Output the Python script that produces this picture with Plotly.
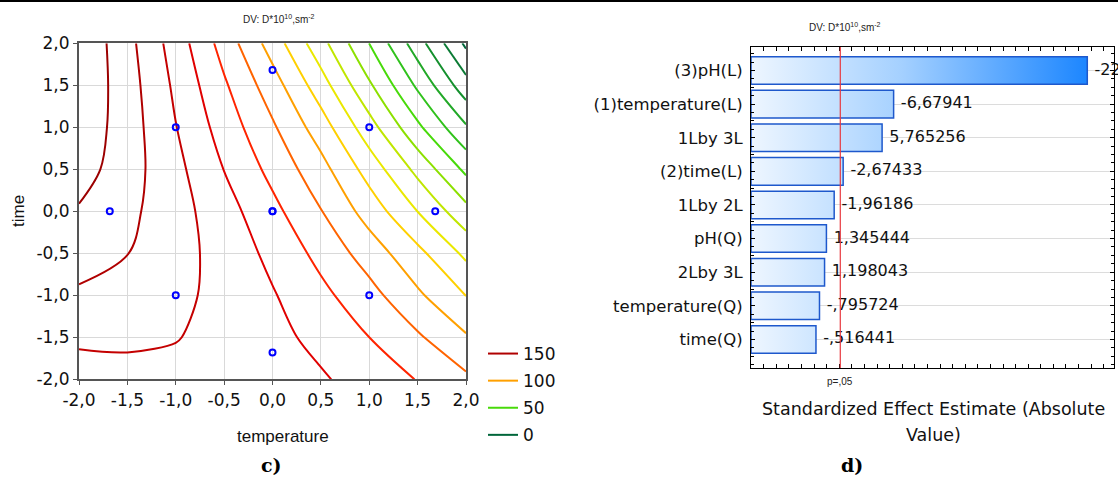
import plotly.graph_objects as go

# ---------------- data: panel c) contour of D*10^10 ----------------
temperature_grid = [-2.0, -1.5, -1.0, -0.5, 0.0, 0.5, 1.0, 1.5, 2.0]
time_grid = [-2.0, -1.5, -1.0, -0.5, 0.0, 0.5, 1.0, 1.5, 2.0]
# rows follow time_grid (bottom -> top), columns follow temperature_grid
D_row_m20 = [136.0, 137.5, 138.0, 137.6, 134.6, 131.2, 125.6, 119.6, 112.0]
D_row_m15 = [141.6, 141.4, 140.3, 137.9, 133.0, 127.1, 120.0, 111.4, 101.1]
D_row_m10 = [148.5, 145.5, 142.0, 137.6, 130.8, 122.6, 113.5, 101.7, 89.8]
D_row_m05 = [154.2, 150.2, 143.6, 136.4, 127.4, 117.1, 105.4, 92.7, 77.8]
D_row_p00 = [159.0, 152.4, 144.0, 134.1, 122.8, 110.4, 95.8, 79.9, 63.2]
D_row_p05 = [164.5, 154.3, 142.8, 129.8, 117.1, 103.6, 85.9, 67.2, 47.8]
D_row_p10 = [167.0, 154.9, 140.3, 125.7, 111.4, 94.9, 74.1, 52.1, 31.2]
D_row_p15 = [168.5, 154.4, 138.1, 121.4, 104.6, 84.5, 61.5, 38.2, 13.9]
D_row_p20 = [169.0, 153.2, 135.4, 116.0, 95.5, 73.5, 49.9, 24.4, -2.0]
D_surface = [D_row_m20, D_row_m15, D_row_m10, D_row_m05, D_row_p00,
             D_row_p05, D_row_p10, D_row_p15, D_row_p20]

level_start, level_end, level_step = 0, 160, 10
legend_levels = [150, 100, 50, 0]

design_temperature = [-1, -1, 1, 1, -1.682, 1.682, 0, 0, 0, 0]
design_time = [-1, 1, -1, 1, 0, 0, -1.682, 1.682, 0, 0]

axis_tick_values = [-2.0, -1.5, -1.0, -0.5, 0.0, 0.5, 1.0, 1.5, 2.0]

# ---------------- data: panel d) Pareto chart ----------------
effect_names = ["(3)pH(L)", "(1)temperature(L)", "1Lby 3L", "(2)time(L)", "1Lby 2L",
                "pH(Q)", "2Lby 3L", "temperature(Q)", "time(Q)"]
effect_values = [-22.05, -6.67941, 5.765256, -2.67433, -1.96186,
                 1.345444, 1.198043, -0.795724, -0.516441]
p05_threshold = 2.447
effect_axis_range = [-4.64, 24.17]

# ---------------- helpers ----------------
W, H = 1118, 479


def px(x):
    return x / W


def py(y):
    return 1 - y / H


def comma(v):
    return f"{v:.1f}".replace(".", ",")


def stat_fmt(v):
    sign = "-" if v < 0 else ""
    a = abs(v)
    ip = int(a)
    int_str = "" if ip == 0 else str(ip)
    dec = 8 - len(sign) - len(int_str) - 1
    frac = f"{a:.{dec}f}".split(".")[1]
    return f"{sign}{int_str},{frac}"


level_colors = ["#00663A", "#0B7A34", "#15902E", "#22A828", "#30C21C", "#48DA0A",
                "#8CE000", "#C0E600", "#EAE800", "#FFD000", "#FFA000", "#FF6400",
                "#FF2400", "#E00000", "#C40000", "#B00000", "#9C0000"]
n_lv = len(level_colors)
colorscale = [[i / (n_lv - 1), c] for i, c in enumerate(level_colors)]


def level_color(lv):
    return level_colors[int(round((lv - level_start) / level_step))]


SANS = "Liberation Sans, Arial, sans-serif"
WIDE = "DejaVu Sans, Verdana, sans-serif"

fig = go.Figure()

# contour lines
fig.add_trace(go.Contour(
    x=temperature_grid, y=time_grid, z=D_surface,
    autocontour=False,
    contours=dict(start=level_start, end=level_end, size=level_step, coloring="lines"),
    colorscale=colorscale, showscale=False,
    line=dict(width=2, smoothing=1.0),
    hoverinfo="skip", xaxis="x", yaxis="y",
))

# design points
fig.add_trace(go.Scatter(
    x=design_temperature, y=design_time, mode="markers",
    marker=dict(symbol="circle-open", size=6, color="#0000FF", line=dict(width=2)),
    showlegend=False, xaxis="x", yaxis="y", cliponaxis=False,
))

# legend entries
for k, lv in enumerate(legend_levels):
    fig.add_trace(go.Scatter(
        x=[None], y=[None], mode="lines", name=str(lv),
        line=dict(color=level_color(lv), width=2),
        legendgroup=f"g{k}", showlegend=True, xaxis="x", yaxis="y",
    ))

# Pareto bars with horizontal gradient
x_base = effect_axis_range[0]
bar_half = 0.41
grad_stop = max(abs(v) for v in effect_values)
for i, v in enumerate(effect_values):
    a = abs(v)
    fig.add_trace(go.Scatter(
        x=[x_base, a, a, x_base, x_base],
        y=[i - bar_half, i - bar_half, i + bar_half, i + bar_half, i - bar_half],
        mode="lines", fill="toself",
        fillgradient=dict(type="horizontal",
                          colorscale=[[0, "#EEF6FF"], [0.45, "#A4D0FF"], [1, "#1C86FF"]],
                          start=x_base, stop=grad_stop),
        line=dict(color="#1E58CC", width=1.5),
        showlegend=False, hoverinfo="skip", xaxis="x2", yaxis="y2",
    ))

# value labels
fig.add_trace(go.Scatter(
    x=[abs(v) for v in effect_values], y=list(range(len(effect_values))),
    mode="markers+text", text=[stat_fmt(v) for v in effect_values],
    marker=dict(size=10, opacity=0),
    textposition="middle right", textfont=dict(family=WIDE, size=16, color="#111"),
    showlegend=False, xaxis="x2", yaxis="y2", cliponaxis=False, hoverinfo="skip",
))

# p=.05 line
fig.add_shape(type="line", xref="x2", yref="y2 domain", x0=p05_threshold, x1=p05_threshold,
              y0=0, y1=1, line=dict(color="#E8383D", width=1.2))

common_tick = dict(tickvals=axis_tick_values, ticktext=[comma(v) for v in axis_tick_values],
                   range=[-2, 2], showgrid=True, gridcolor="#D9D9D9", gridwidth=1,
                   zeroline=False, showline=True, linecolor="#555", linewidth=2, mirror=True,
                   ticks="outside", ticklen=4, tickcolor="#555", automargin=False,
                   tickfont=dict(family=WIDE, size=17, color="#111"))

fig.update_layout(
    width=W, height=H, autosize=False,
    margin=dict(l=0, r=0, t=0, b=0, pad=0, autoexpand=False),
    paper_bgcolor="white", plot_bgcolor="white",
    xaxis=dict(domain=[px(79), px(466)], anchor="y", **common_tick),
    yaxis=dict(domain=[py(379.3), py(43.3)], anchor="x", **common_tick),
    xaxis2=dict(domain=[px(751), px(1114)], anchor="y2", range=effect_axis_range,
                showticklabels=False, ticks="inside", tick0=x_base, dtick=1, ticklen=4,
                tickcolor="#000", showgrid=False, zeroline=False, showline=True,
                linecolor="#000", linewidth=1, mirror="ticks", automargin=False),
    yaxis2=dict(domain=[py(368), py(47)], anchor="x2", range=[8.85, -0.7],
                tickvals=list(range(len(effect_names))), ticktext=effect_names,
                ticks="inside", ticklen=4, tickcolor="#000", automargin=False,
                ticklabelstandoff=4,
                minor=dict(dtick=0.25, tick0=0, ticks="inside", ticklen=3,
                           tickcolor="#000", showgrid=False),
                showgrid=True, gridcolor="#DCDCDC", zeroline=False,
                showline=True, linecolor="#000", linewidth=1, mirror="ticks",
                tickfont=dict(family=WIDE, size=16.5, color="#111")),
    legend=dict(x=px(483), y=py(336), xanchor="left", yanchor="top",
                bgcolor="rgba(0,0,0,0)", font=dict(family=WIDE, size=17, color="#111"),
                tracegroupgap=2, itemwidth=30, borderwidth=0),
    showlegend=True,
)

title_txt = "DV: D*10<sup>10</sup>,sm<sup>-2</sup>"
ann = [
    dict(x=px(279), y=py(19), text=title_txt, font=dict(family=SANS, size=10, color="#222")),
    dict(x=px(845), y=py(27), text=title_txt, font=dict(family=SANS, size=10, color="#222")),
    dict(x=px(283), y=py(436), text="temperature", font=dict(family=SANS, size=17, color="#111")),
    dict(x=px(18), y=py(211), text="time", textangle=-90, font=dict(family=SANS, size=17, color="#111")),
    dict(x=px(933), y=py(409), text="Standardized Effect Estimate (Absolute",
         font=dict(family=WIDE, size=17.5, color="#111")),
    dict(x=px(933), y=py(435), text="Value)", font=dict(family=WIDE, size=17.5, color="#111")),
    dict(x=p05_threshold, xref="x2", y=py(381), text="p=,05", font=dict(family=SANS, size=10, color="#222")),
    dict(x=px(271), y=py(465), text="<b>c)</b>", font=dict(family="DejaVu Serif, serif", size=19, color="#000")),
    dict(x=px(852), y=py(465), text="<b>d)</b>", font=dict(family="DejaVu Serif, serif", size=19, color="#000")),
]
for a in ann:
    a.setdefault("xref", "paper")
    a["yref"] = "paper"
    a["showarrow"] = False
    a["xanchor"] = "center"
    a["yanchor"] = "middle"
fig.update_layout(annotations=ann)

# top rule of the source page
fig.add_shape(type="line", xref="paper", yref="paper", x0=0, x1=1, y0=py(1), y1=py(1),
              line=dict(color="#000", width=2))

fig.write_html("out.html")
